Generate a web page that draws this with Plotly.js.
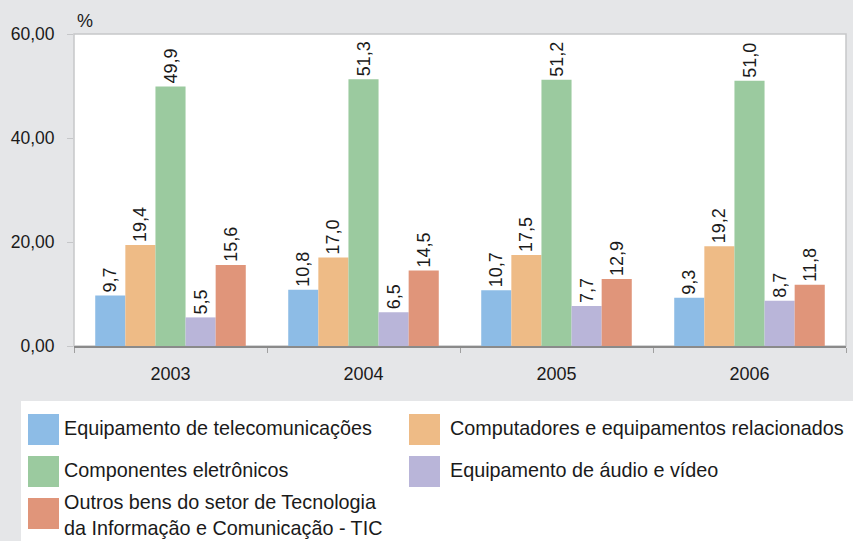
<!DOCTYPE html>
<html><head><meta charset="utf-8">
<script src="https://cdn.plot.ly/plotly-3.0.1.min.js"></script>
<style>html,body{margin:0;padding:0;background:#e5e6e8;}</style>
</head><body>
<div id="chart" style="width:853px;height:541px;"></div>
<script>
const years = ['2003', '2004', '2005', '2006'];
const seriesNames = [
  'Equipamento de telecomunicações',
  'Computadores e equipamentos relacionados',
  'Componentes eletrônicos',
  'Equipamento de áudio e vídeo',
  'Outros bens do setor de Tecnologia<br>da Informação e Comunicação - TIC'
];
const telecom = [9.7, 10.8, 10.7, 9.3];
const computadores = [19.4, 17.0, 17.5, 19.2];
const componentes = [49.9, 51.3, 51.2, 51.0];
const audioVideo = [5.5, 6.5, 7.7, 8.7];
const outros = [15.6, 14.5, 12.9, 11.8];
const yTicks = [0, 20, 40, 60];
const colors = ['#8dbce6', '#eebb86', '#9bca9f', '#b9b5d9', '#e0957a'];

const values = [telecom, computadores, componentes, audioVideo, outros];
const FONT = 'Liberation Sans, Arial, sans-serif';
const TXT = '#1a1a1a';

const traces = values.map((v, i) => ({
  type: 'bar', x: years, y: v, name: seriesNames[i],
  marker: {color: colors[i]},
  text: v, texttemplate: '%{y:.1f}', textposition: 'outside',
  textangle: -90, constraintext: 'none', cliponaxis: false,
  textfont: {family: FONT, size: 18, color: TXT},
  hoverinfo: 'none'
}));

// plot area geometry in pixels
const L = 74, R = 7, T = 34, B = 195, W = 853, H = 541;
const pw = W - L - R, ph = H - T - B;
const px = x => (x - L) / pw;
const py = y => (H - B - y) / ph;

const shapes = [
  {type: 'rect', xref: 'paper', yref: 'paper', x0: 0, x1: 1, y0: 0, y1: 1,
   line: {color: '#c6c7c9', width: 1.5}, fillcolor: 'rgba(0,0,0,0)', layer: 'below'},
  {type: 'rect', xref: 'paper', yref: 'paper', x0: px(21), x1: px(853), y0: py(401), y1: py(541),
   line: {width: 0}, fillcolor: '#ffffff', layer: 'below'}
];
const annotations = [
  {xref: 'paper', yref: 'paper', x: px(84.5), y: py(21), text: '%', showarrow: false,
   font: {family: FONT, size: 18, color: TXT}, xanchor: 'center', yanchor: 'middle'}
];
// custom legend built from names & colors
const legPos = [
  {sx: 28, tx: 62, sy: 414, ty: 428},
  {sx: 409, tx: 448, sy: 414, ty: 428},
  {sx: 28, tx: 62, sy: 456, ty: 470},
  {sx: 409, tx: 448, sy: 456, ty: 470},
  {sx: 28, tx: 62, sy: 498, ty: 515}
];
seriesNames.forEach((n, i) => {
  const p = legPos[i];
  shapes.push({type: 'rect', xref: 'paper', yref: 'paper',
    x0: px(p.sx), x1: px(p.sx + 31), y0: py(p.sy), y1: py(p.sy + 31),
    line: {width: 0}, fillcolor: colors[i]});
  annotations.push({xref: 'paper', yref: 'paper', x: px(p.tx), y: py(p.ty),
    text: n, showarrow: false, xanchor: 'left', yanchor: 'middle', align: 'left',
    font: {family: FONT, size: 19.8, color: TXT}});
});

const layout = {
  width: W, height: H,
  margin: {l: L, r: R, t: T, b: B, pad: 0},
  paper_bgcolor: '#e5e6e8', plot_bgcolor: '#ffffff',
  separators: ',.',
  showlegend: false,
  barmode: 'group', bargap: 0.22, bargroupgap: 0,
  font: {family: FONT, size: 18, color: TXT},
  xaxis: {
    type: 'category', showgrid: false, showline: true, linecolor: '#8a8a8a', linewidth: 1.5,
    ticks: 'outside', tickson: 'boundaries', ticklen: 5, tickcolor: '#a0a0a0',
    tickfont: {family: FONT, size: 18, color: TXT}, ticklabelstandoff: 11, zeroline: false
  },
  yaxis: {
    range: [0, 60], tickvals: yTicks, tickformat: '.2f',
    showgrid: false, zeroline: false, showline: false,
    ticks: 'outside', ticklen: 6, tickcolor: '#c6c7c9',
    tickfont: {family: FONT, size: 17.5, color: TXT}, ticklabelstandoff: 9
  },
  shapes: shapes, annotations: annotations
};

Plotly.newPlot('chart', traces, layout, {staticPlot: true, displayModeBar: false});
</script>
</body></html>
